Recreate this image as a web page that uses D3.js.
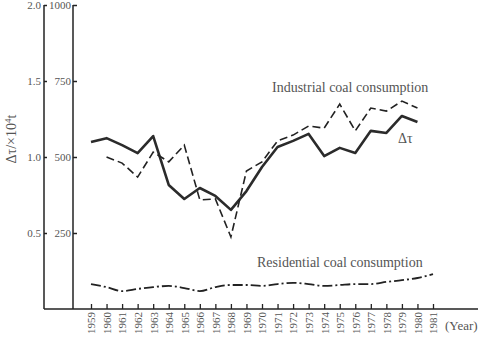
<!DOCTYPE html>
<html>
<head>
<meta charset="utf-8">
<script src="https://cdn.jsdelivr.net/npm/d3@7"></script>
<style>
  body { margin: 0; background: #fff; }
  svg text { font-family: "Liberation Serif", "DejaVu Serif", serif; fill: #555; }
</style>
</head>
<body>
<div id="graphicContainer"></div>
<script>

// years on the x axis
const years = d3.range(1959, 1982)

// Δτ (solid), read on the 0-1000 scale
const deltaYears = d3.range(1959, 1981)
const deltaTau = [549, 562, 539, 513, 569, 408, 362, 398, 372, 326, 388, 467, 533, 553, 576, 503, 530, 513, 586, 579, 635, 615]

// industrial coal consumption (dashed)
const indYears = d3.range(1960, 1981)
const industrial = [500, 480, 434, 516, 484, 539, 359, 362, 237, 454, 484, 553, 572, 602, 595, 674, 586, 661, 651, 684, 661]

// residential coal consumption (dash-dot)
const resYears = d3.range(1959, 1982)
const residential = [82, 72, 59, 66, 72, 76, 69, 59, 72, 79, 79, 76, 82, 86, 82, 76, 79, 82, 82, 89, 95, 102, 115]

const leftTicks = [0.5, 1.0, 1.5, 2.0]
const rightTicks = [250, 500, 750, 1000]

const width = 482
const height = 340

const svg = d3.select("#graphicContainer")
  .append("svg")
  .attr("width", width)
  .attr("height", height)

const x = d3.scaleLinear().domain([1959, 1981]).range([91, 433])
const y = d3.scaleLinear().domain([0, 1000]).range([309, 5])
const yL = d3.scaleLinear().domain([0, 2]).range([309, 5])

// outer axis (Δτ)
const outer = svg.append("g")
  .attr("transform", "translate(44,0)")
  .call(d3.axisLeft(yL).tickValues(leftTicks).tickSize(-3).tickPadding(3).tickFormat(d3.format(".1f")).tickSizeOuter(0))

// inner axis (10^4 t)
const inner = svg.append("g")
  .attr("transform", "translate(73,0)")
  .call(d3.axisLeft(y).tickValues(rightTicks).tickSize(-4).tickPadding(2).tickFormat(d3.format("d")).tickSizeOuter(0))

for (const [g, xPos] of [[outer, 44], [inner, 73]]) {
  g.attr("font-family", "Liberation Serif").attr("font-size", 11)
  g.select(".domain").remove()
  g.selectAll(".tick line").attr("stroke", "#222").attr("stroke-width", 1.5)
  g.selectAll(".tick text").attr("fill", "#555")
  svg.append("line")
    .attr("x1", xPos).attr("x2", xPos)
    .attr("y1", y(1000)).attr("y2", y(0))
    .attr("stroke", "#222")
    .attr("stroke-width", 1.5)
}

// bottom axis
svg.append("line")
  .attr("x1", 44).attr("x2", 478)
  .attr("y1", 309).attr("y2", 309)
  .attr("stroke", "#222").attr("stroke-width", 1.3)

const xAxis = svg.append("g")
  .attr("transform", "translate(0,309)")
  .attr("font-family", "Liberation Serif")
  .attr("font-size", 11)
  .call(d3.axisBottom(x).tickValues(years).tickSize(-5).tickFormat(d3.format("d")).tickSizeOuter(0))

xAxis.attr("font-family", "Liberation Serif").attr("font-size", 11)
xAxis.select(".domain").remove()
xAxis.selectAll(".tick line").attr("stroke", "#222").attr("stroke-width", 1.3)
xAxis.selectAll(".tick text")
  .attr("transform", "rotate(-90)")
  .attr("x", -3)
  .attr("y", 0)
  .attr("dy", "0.35em")
  .attr("text-anchor", "end")
  .attr("fill", "#555")

svg.append("text")
  .attr("x", 445)
  .attr("y", 330)
  .style("font-size", "13px")
  .text("(Year)")

// y title
const yTitle = svg.append("text")
  .attr("transform", "translate(16,139) rotate(-90)")
  .attr("text-anchor", "middle")
  .style("font-size", "14px")

yTitle.append("tspan").text("Δτ/×10")
yTitle.append("tspan").attr("baseline-shift", "super").style("font-size", "9px").text("4")
yTitle.append("tspan").text("t")

const line = d3.line()
  .x(d => x(d[0]))
  .y(d => y(d[1]))

svg.append("path")
  .datum(deltaYears.map((yr, i) => [yr, deltaTau[i]]))
  .attr("d", line)
  .attr("fill", "none")
  .attr("stroke", "#2b2b2b")
  .attr("stroke-width", 2.6)
  .attr("stroke-linejoin", "round")

svg.append("path")
  .datum(indYears.map((yr, i) => [yr, industrial[i]]))
  .attr("d", line)
  .attr("fill", "none")
  .attr("stroke", "#222")
  .attr("stroke-width", 1.6)
  .attr("stroke-dasharray", "8,4")

svg.append("path")
  .datum(resYears.map((yr, i) => [yr, residential[i]]))
  .attr("d", line.curve(d3.curveMonotoneX))
  .attr("fill", "none")
  .attr("stroke", "#222")
  .attr("stroke-width", 1.8)
  .attr("stroke-dasharray", "10,3,2,3")

// labels
svg.append("text")
  .attr("x", 272)
  .attr("y", 92)
  .style("font-size", "14px")
  .text("Industrial coal consumption")

svg.append("text")
  .attr("x", 398)
  .attr("y", 143)
  .style("font-size", "14px")
  .text("Δτ")

svg.append("text")
  .attr("x", 257)
  .attr("y", 267)
  .style("font-size", "14px")
  .text("Residential coal consumption")

</script>
</body>
</html>
